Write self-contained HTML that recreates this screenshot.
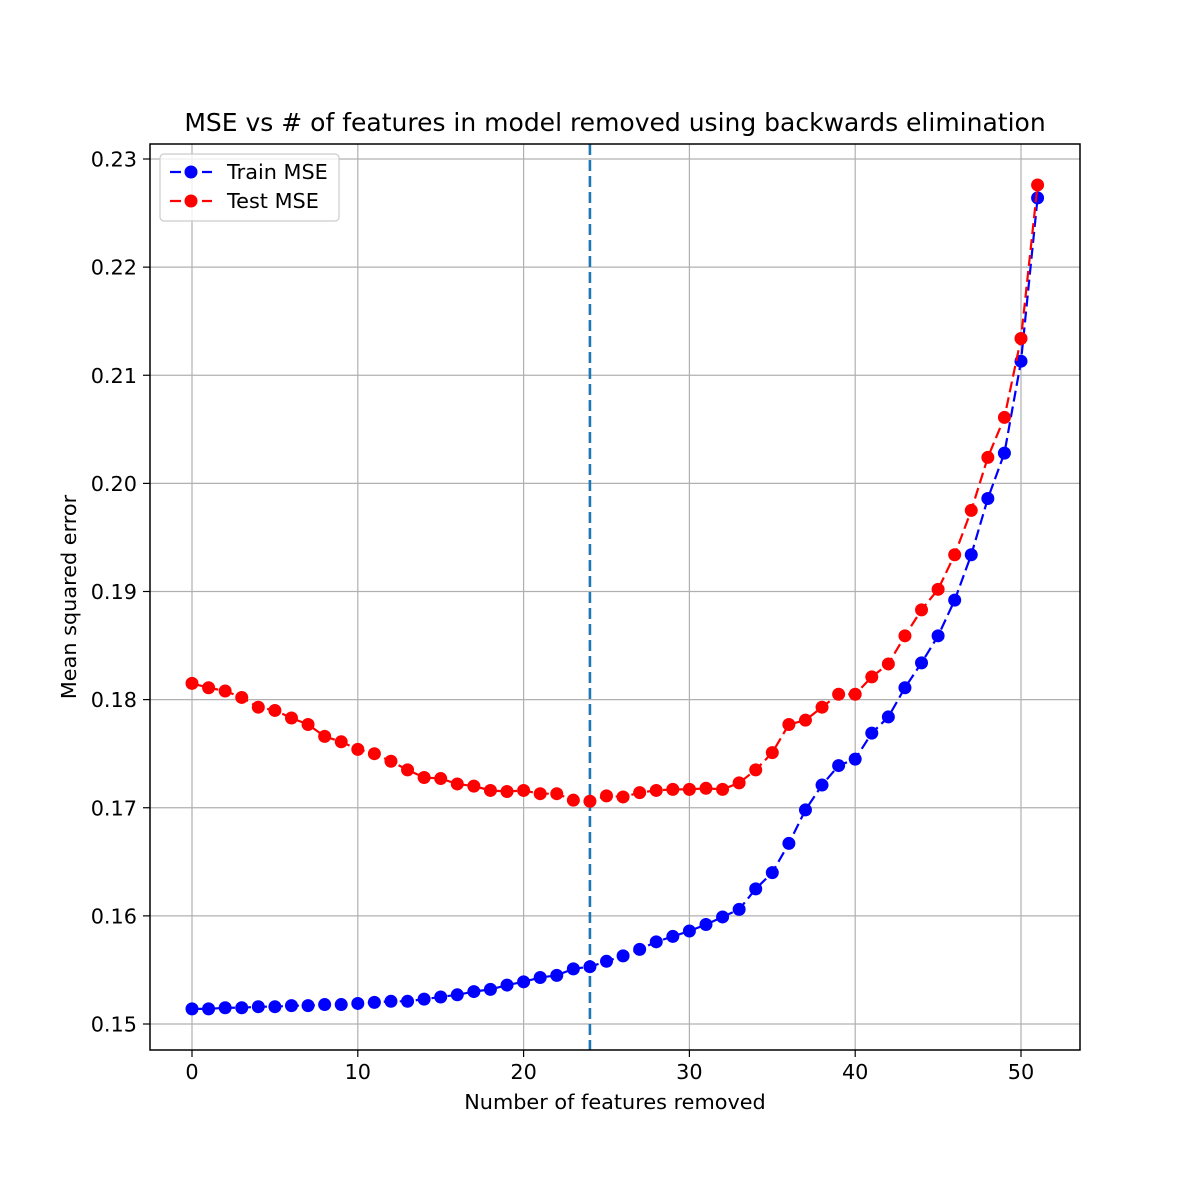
<!DOCTYPE html>
<html><head><meta charset="utf-8">
<style>
html,body{margin:0;padding:0;background:#fff;}
svg{display:block;font-family:"DejaVu Sans","Liberation Sans",sans-serif;}
</style></head>
<body>
<svg id="chart" width="1200" height="1200" viewBox="0 0 1200 1200" xmlns="http://www.w3.org/2000/svg">
<rect width="1200" height="1200" fill="#fff"/>
<g id="grid"></g>
<g id="marks"></g>
<rect x="150" y="144" width="930" height="906" fill="none" stroke="#000" stroke-width="1.5"/>
<g id="ticks"></g>
<text x="615" y="131" text-anchor="middle" font-size="25">MSE vs # of features in model removed using backwards elimination</text>
<text x="615" y="1109" text-anchor="middle" font-size="20.8">Number of features removed</text>
<text transform="translate(76,597) rotate(-90)" text-anchor="middle" font-size="20.8">Mean squared error</text>
<g>
<rect x="160" y="154" width="179" height="67" rx="4" fill="#fff" fill-opacity="0.8" stroke="#ccc" stroke-width="1.2"/>
<line x1="170" y1="172" x2="212" y2="172" stroke="#0000ff" stroke-width="2.2" stroke-dasharray="11,5"/>
<circle cx="191" cy="172" r="6.5" fill="#0000ff"/>
<text x="227" y="179" font-size="20.8">Train MSE</text>
<line x1="170" y1="201" x2="212" y2="201" stroke="#ff0000" stroke-width="2.2" stroke-dasharray="11,5"/>
<circle cx="191" cy="201" r="6.5" fill="#ff0000"/>
<text x="227" y="208" font-size="20.8">Test MSE</text>
</g>
</svg>
<script>
const train = [0.1514,0.1514,0.1515,0.1515,0.1516,0.1516,0.1517,0.1517,0.1518,0.1518,0.1519,0.1520,0.1521,0.1521,0.1523,0.1525,0.1527,0.1530,0.1532,0.1536,0.1539,0.1543,0.1545,0.1551,0.1553,0.1558,0.1563,0.1569,0.1576,0.1581,0.1586,0.1592,0.1599,0.1606,0.1625,0.1640,0.1667,0.1698,0.1721,0.1739,0.1745,0.1769,0.1784,0.1811,0.1834,0.1859,0.1892,0.1934,0.1986,0.2028,0.2113,0.2264];
const test = [0.1815,0.1811,0.1808,0.1802,0.1793,0.1790,0.1783,0.1777,0.1766,0.1761,0.1754,0.1750,0.1743,0.1735,0.1728,0.1727,0.1722,0.1720,0.1716,0.1715,0.1716,0.1713,0.1713,0.1707,0.1706,0.1711,0.1710,0.1714,0.1716,0.1717,0.1717,0.1718,0.1717,0.1723,0.1735,0.1751,0.1777,0.1781,0.1793,0.1805,0.1805,0.1821,0.1833,0.1859,0.1883,0.1902,0.1934,0.1975,0.2024,0.2061,0.2134,0.2276];
const xTicks = [0,10,20,30,40,50];
const yTicks = [0.15,0.16,0.17,0.18,0.19,0.20,0.21,0.22,0.23];
const yTickLabels = ["0.15","0.16","0.17","0.18","0.19","0.20","0.21","0.22","0.23"];
const bestK = 24;

const NS="http://www.w3.org/2000/svg";
const X = v => 192 + (v - 0) * (1021 - 192) / 50;
const Y = v => 1024 - (v - 0.15) * (1024 - 159) / 0.08;
function mk(tag, attrs, parent){const e=document.createElementNS(NS,tag);for(const k in attrs)e.setAttribute(k,attrs[k]);parent.appendChild(e);return e;}
const grid=document.getElementById('grid'), marks=document.getElementById('marks'), ticks=document.getElementById('ticks');

xTicks.forEach(t=>{
  const g=mk('line',{x1:X(t),x2:X(t),y1:144,y2:1050,stroke:'#b0b0b0','stroke-width':1.2},grid);
  
  
  mk('line',{x1:X(t),x2:X(t),y1:1050,y2:1057,stroke:'#000','stroke-width':1.2},ticks);
  const tx=mk('text',{x:X(t),y:1079,'text-anchor':'middle','font-size':20.8},ticks);
  tx.textContent=String(t);
  
  
});
yTicks.forEach((t,i)=>{
  const g=mk('line',{x1:150,x2:1080,y1:Y(t),y2:Y(t),stroke:'#b0b0b0','stroke-width':1.2},grid);
  
  
  mk('line',{x1:143,x2:150,y1:Y(t),y2:Y(t),stroke:'#000','stroke-width':1.2},ticks);
  const tx=mk('text',{x:137,y:Y(t)+7.5,'text-anchor':'end','font-size':20.8},ticks);
  tx.textContent=yTickLabels[i];
  
  
});

const vl=mk('line',{x1:X(bestK),x2:X(bestK),y1:144,y2:1050,stroke:'#1f77b4','stroke-width':2.6,'stroke-dasharray':'11,5'},marks);



function series(arr,color,name){
  const p=mk('polyline',{points:arr.map((v,i)=>X(i)+','+Y(v)).join(' '),fill:'none',stroke:color,'stroke-width':2.2,'stroke-dasharray':'11,5'},marks);
  
  
  arr.forEach((v,i)=>{
    const c=mk('circle',{cx:X(i),cy:Y(v),r:6.5,fill:color},marks);
    
    
  });
}
series(train,'#0000ff','train-mse');
series(test,'#ff0000','test-mse');
</script>
</body></html>
